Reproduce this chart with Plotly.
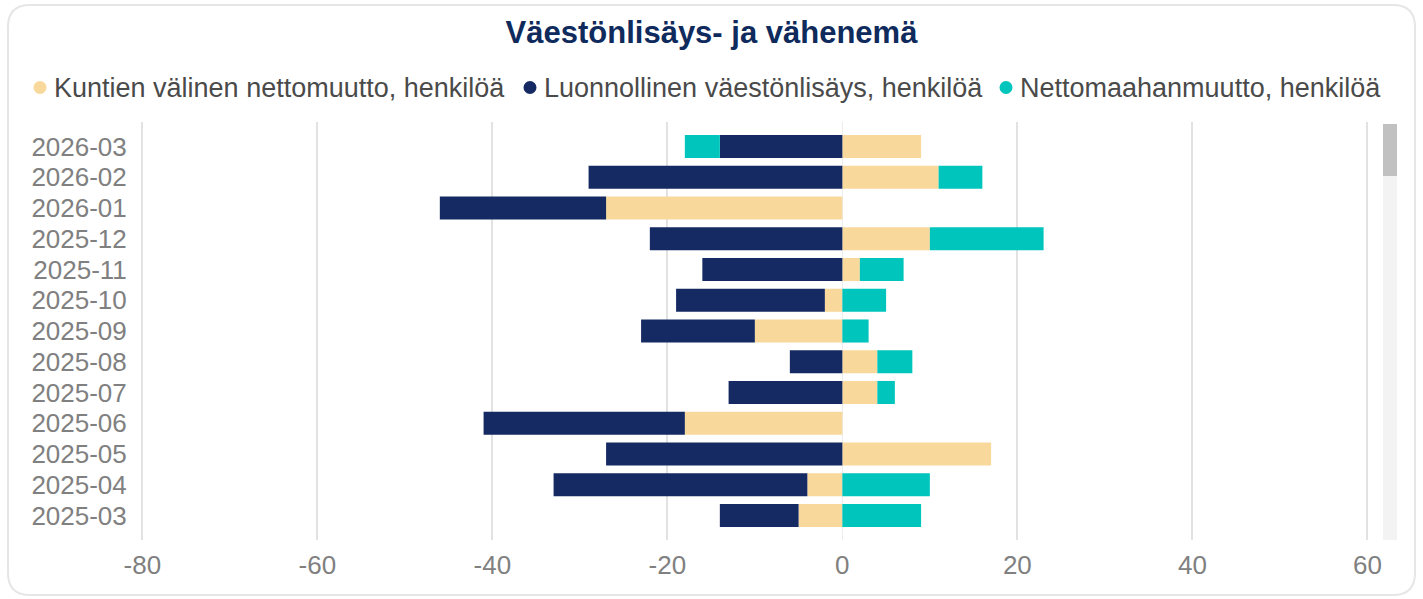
import plotly.graph_objects as go

W, H = 1423, 599
L, R, T, B = 141, 53, 122, 59

kuukaudet = ['2025-03', '2025-04', '2025-05', '2025-06', '2025-07', '2025-08', '2025-09',
             '2025-10', '2025-11', '2025-12', '2026-01', '2026-02', '2026-03']
kuntien_valinen = [-5, -4, 17, -18, 4, 4, -10, -2, 2, 10, -27, 11, 9]
luonnollinen = [-9, -29, -27, -23, -13, -6, -13, -17, -16, -22, -19, -29, -14]
nettomaahanmuutto = [9, 10, 0, 0, 2, 4, 3, 5, 5, 13, 0, 5, -4]
x_tikit = [-80, -60, -40, -20, 0, 20, 40, 60]

sarjat = [
    ('Kuntien välinen nettomuutto, henkilöä', kuntien_valinen, '#F9D89B'),
    ('Luonnollinen väestönlisäys, henkilöä', luonnollinen, '#152A63'),
    ('Nettomaahanmuutto, henkilöä', nettomaahanmuutto, '#00C5BD'),
]
# legendan pallojen paikat (px)
legenda_x = [40, 530, 1006]

pw, ph = W - L - R, H - T - B


def px2paper(x, y):
    # pikselit -> paper-koordinaatit
    return (x - L) / pw, 1 - (y - T) / ph


fig = go.Figure()
for nimi, arvot, vari in sarjat:
    fig.add_trace(go.Bar(y=kuukaudet, x=arvot, orientation='h', name=nimi,
                         marker=dict(color=vari, line=dict(width=0)),
                         showlegend=False))

# kortin reunus
x0, y0 = px2paper(8, 5)
x1, y1 = px2paper(1415, 595)
rx = 22 / pw
ry = 22 / ph
path = (f'M {x0+rx},{y0} L {x1-rx},{y0} Q {x1},{y0} {x1},{y0-ry} '
        f'L {x1},{y1+ry} Q {x1},{y1} {x1-rx},{y1} L {x0+rx},{y1} '
        f'Q {x0},{y1} {x0},{y1+ry} L {x0},{y0-ry} Q {x0},{y0} {x0+rx},{y0} Z')
shapes = [dict(type='path', xref='paper', yref='paper', path=path,
               line=dict(color='#E6E6E6', width=2), fillcolor='rgba(0,0,0,0)', layer='below')]

# vierityspalkki
sx0, sy0 = px2paper(1383, 124)
sx1, sy1 = px2paper(1397, 540)
shapes.append(dict(type='rect', xref='paper', yref='paper', x0=sx0, x1=sx1, y0=sy1, y1=sy0,
                   fillcolor='#F3F3F3', line=dict(width=0)))
tx0, ty0 = px2paper(1383, 124)
tx1, ty1 = px2paper(1397, 176)
shapes.append(dict(type='rect', xref='paper', yref='paper', x0=tx0, x1=tx1, y0=ty1, y1=ty0,
                   fillcolor='#C1C1C1', line=dict(width=0)))

# legenda käsin: pallo + teksti
annotations = []
for (nimi, _, vari), lx in zip(sarjat, legenda_x):
    cx0, cy0 = px2paper(lx - 6.5, 81)
    cx1, cy1 = px2paper(lx + 6.5, 94)
    shapes.append(dict(type='circle', xref='paper', yref='paper', x0=cx0, x1=cx1,
                       y0=cy1, y1=cy0, fillcolor=vari, line=dict(width=0)))
    ax, ay = px2paper(lx + 12, 88)
    annotations.append(dict(text=nimi, x=ax, y=ay, xref='paper', yref='paper',
                            xanchor='left', yanchor='middle', showarrow=False,
                            font=dict(size=27, color='#4A4A4A')))

fig.update_layout(
    width=W, height=H,
    margin=dict(l=L, r=R, t=T, b=B),
    barmode='relative', bargap=0.25,
    plot_bgcolor='white', paper_bgcolor='white',
    font=dict(family='Liberation Sans, Arial, sans-serif', color='#808080'),
    title=dict(text='<b>Väestönlisäys- ja vähenemä</b>', x=0.5, xref='container', xanchor='center',
               y=1 - 32 / H, yanchor='middle',
               font=dict(size=31, color='#0F2A5C')),
    showlegend=False,
    shapes=shapes,
    annotations=annotations,
)
fig.update_xaxes(range=[-80.15, 60.3], tickvals=x_tikit, ticktext=[str(v) for v in x_tikit],
                 showgrid=True, gridcolor='#E2E2E2', gridwidth=2,
                 zeroline=True, zerolinecolor='#EDEDED', zerolinewidth=1,
                 tickfont=dict(size=26, color='#808080'), ticks='outside', ticklen=2,
                 tickcolor='rgba(0,0,0,0)', showline=False, fixedrange=True)
fig.update_yaxes(type='category', categoryorder='array', categoryarray=kuukaudet,
                 tickmode='array', tickvals=kuukaudet, ticktext=kuukaudet,
                 range=[-0.8, 12.8], showgrid=False, zeroline=False,
                 tickfont=dict(size=26, color='#808080'), ticks='outside', ticklen=8,
                 tickcolor='rgba(0,0,0,0)', showline=False, fixedrange=True)

fig.write_html('out.html', config={'displayModeBar': False},
               post_script="document.body.style.margin='0';")
